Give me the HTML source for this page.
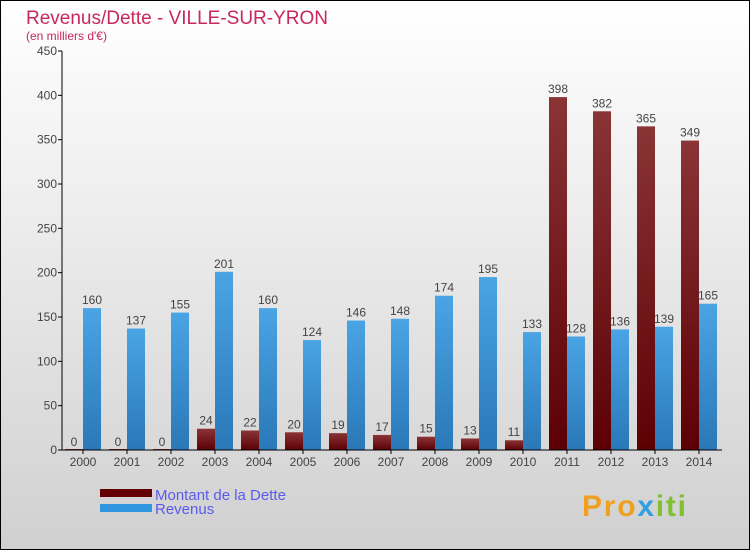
<!DOCTYPE html>
<html><head><meta charset="utf-8"><style>
body{margin:0;width:750px;height:550px;overflow:hidden;font-family:"Liberation Sans",sans-serif}
</style></head><body>
<svg width="750" height="550" xmlns="http://www.w3.org/2000/svg">
<defs>
<linearGradient id="bg" x1="0" y1="0" x2="0" y2="1"><stop offset="0" stop-color="#ffffff"/><stop offset="1" stop-color="#d0d0d0"/></linearGradient>
<linearGradient id="gd" x1="0" y1="0" x2="0" y2="1"><stop offset="0" stop-color="#8a3436"/><stop offset="1" stop-color="#5c0004"/></linearGradient>
<linearGradient id="gr" x1="0" y1="0" x2="0" y2="1"><stop offset="0" stop-color="#4aa4e4"/><stop offset="1" stop-color="#2a78b8"/></linearGradient>
</defs>
<rect x="0.5" y="0.5" width="749" height="549" fill="url(#bg)" stroke="#000"/>
<text x="26" y="24" font-size="19" fill="#c8285a">Revenus/Dette - VILLE-SUR-YRON</text>
<text x="26" y="40" font-size="12" fill="#c8285a">(en milliers d'€)</text>
<g id="plot"></g>
<g>
<rect x="100" y="489" width="52" height="8" fill="#640000"/>
<text x="155" y="500" font-size="15" fill="#5a5af0">Montant de la Dette</text>
<rect x="100" y="504" width="52" height="8" fill="#3096e0"/>
<text x="155" y="514" font-size="15" fill="#5a5af0">Revenus</text>
</g>
<text x="582" y="516" font-size="30" font-weight="bold" fill="#f0a020" textLength="104">Pro<tspan fill="#30a0e0">x</tspan><tspan fill="#80c030">iti</tspan></text>
</svg>
<script>
const years=["2000","2001","2002","2003","2004","2005","2006","2007","2008","2009","2010","2011","2012","2013","2014"];
const dette=[0,0,0,24,22,20,19,17,15,13,11,398,382,365,349];
const revenus=[160,137,155,201,160,124,146,148,174,195,133,128,136,139,165];
const yTicks=[0,50,100,150,200,250,300,350,400,450];
const NS="http://www.w3.org/2000/svg";
const g=document.getElementById('plot');
const y=v=>450-v*399/450;
const xc=i=>83+i*44;
function mk(t,a,txt){const e=document.createElementNS(NS,t);for(const k in a)e.setAttribute(k,a[k]);if(txt!==undefined)e.textContent=txt;g.appendChild(e);return e;}
yTicks.forEach(v=>{
 const l=mk('line',{x1:58,x2:62,y1:y(v),y2:y(v),stroke:'#000'});
 
 
 const t=mk('text',{x:57,y:y(v)+4,'font-size':12,fill:'#444','text-anchor':'end'},v);
 
 
});
years.forEach((yr,i)=>{
 const c=xc(i);
 const d=mk('rect',{x:c-18,y:y(dette[i])-(dette[i]?0:1),width:18,height:Math.max(1,450-y(dette[i])),fill:'url(#gd)'});
 
 
 const r=mk('rect',{x:c,y:y(revenus[i]),width:18,height:450-y(revenus[i]),fill:'url(#gr)'});
 
 
 const dl=mk('text',{x:c-9,y:y(dette[i])-4,'font-size':12,fill:'#444','text-anchor':'middle'},dette[i]);
 
 
 const rl=mk('text',{x:c+9,y:y(revenus[i])-4,'font-size':12,fill:'#444','text-anchor':'middle'},revenus[i]);
 
 
 const tk=mk('line',{x1:c,x2:c,y1:450,y2:454,stroke:'#000'});
 
 
 const xl=mk('text',{x:c,y:466,'font-size':12,fill:'#444','text-anchor':'middle'},yr);
 
 
});
const ya=mk('line',{x1:62,x2:62,y1:51,y2:450,stroke:'#000'});


const xa=mk('line',{x1:62,x2:722,y1:450,y2:450,stroke:'#000'});


</script>
</body></html>
